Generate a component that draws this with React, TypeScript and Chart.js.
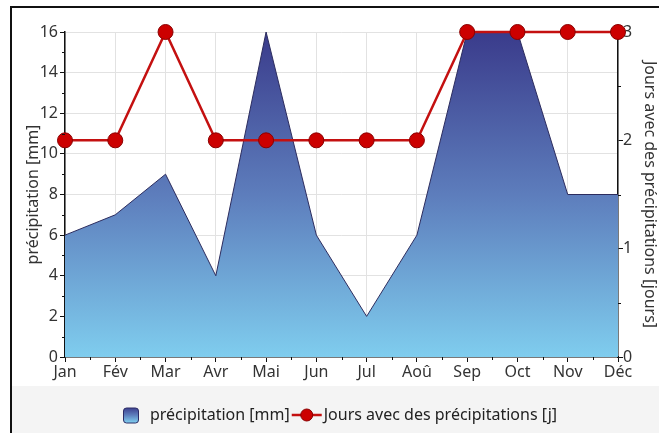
import React, { useEffect, useRef } from "react";
import { Chart, registerables } from "chart.js";

Chart.register(...registerables);

const months = ["Jan", "Fév", "Mar", "Avr", "Mai", "Jun", "Jul", "Aoû", "Sep", "Oct", "Nov", "Déc"];
const precipitation = [6, 7, 9, 4, 16, 6, 2, 6, 16, 16, 8, 8];
const rainyDays = [2, 2, 3, 2, 2, 2, 2, 2, 3, 3, 3, 3];
const leftAxisTitle = "précipitation [mm]";
const rightAxisTitle = "Jours avec des précipitations [jours]";
const legendAreaLabel = "précipitation [mm]";
const legendLineLabel = "Jours avec des précipitations [j]";

const FONT = "'Noto Sans', 'Open Sans', sans-serif";
const TOP_COLOR = "#3a3b8b";
const BOTTOM_COLOR = "#7fcdee";

function areaGradient(ctx: CanvasRenderingContext2D, top: number, bottom: number) {
  const g = ctx.createLinearGradient(0, top, 0, bottom);
  g.addColorStop(0, TOP_COLOR);
  g.addColorStop(0.5, "#5d7dbc");
  g.addColorStop(1, BOTTOM_COLOR);
  return g;
}

const framePlugin = {
  id: "frame",
  beforeDraw(chart: any) {
    const { ctx, width, height } = chart;
    ctx.save();
    ctx.fillStyle = "#ffffff";
    ctx.fillRect(0, 0, width, height);
    ctx.fillStyle = "#f4f4f4";
    ctx.fillRect(11, 386, width - 11, height - 386);
    ctx.strokeStyle = "#111111";
    ctx.lineWidth = 2;
    ctx.beginPath();
    ctx.moveTo(11, height);
    ctx.lineTo(11, 7);
    ctx.lineTo(width, 7);
    ctx.stroke();
    ctx.restore();
  },
};

const minorTicksPlugin = {
  id: "minorTicks",
  afterDraw(chart: any) {
    const { ctx } = chart;
    const y = chart.scales.y;
    const y1 = chart.scales.y1;
    const x = chart.scales.x;
    ctx.save();
    ctx.strokeStyle = "#111111";
    ctx.lineWidth = 1;
    ctx.beginPath();
    for (let v = 1; v < 16; v += 2) {
      const py = Math.round(y.getPixelForValue(v)) + 0.5;
      ctx.moveTo(y.right - 3, py);
      ctx.lineTo(y.right, py);
    }
    for (let v = 0.5; v < 3; v += 1) {
      const py = Math.round(y1.getPixelForValue(v)) + 0.5;
      ctx.moveTo(y1.left, py);
      ctx.lineTo(y1.left + 3, py);
    }
    for (let i = 0; i < months.length - 1; i++) {
      const px = Math.round((x.getPixelForTick(i) + x.getPixelForTick(i + 1)) / 2) + 0.5;
      ctx.moveTo(px, x.top);
      ctx.lineTo(px, x.top + 3);
    }
    ctx.stroke();
    ctx.restore();
  },
};

const legendPlugin = {
  id: "customLegend",
  afterDraw(chart: any) {
    const { ctx } = chart;
    ctx.save();
    ctx.font = `16px ${FONT}`;
    const w1 = ctx.measureText(legendAreaLabel).width;
    const w2 = ctx.measureText(legendLineLabel).width;
    const box = 15;
    const gapBox = 12;
    const marker = 30;
    const total = box + gapBox + w1 + 2 + marker + 2 + w2;
    let x = 340 - total / 2;
    const cy = 415;
    const g = areaGradient(ctx, cy - box / 2, cy + box / 2);
    ctx.fillStyle = g;
    ctx.strokeStyle = "#2c2c66";
    ctx.lineWidth = 1;
    ctx.beginPath();
    (ctx as any).roundRect(Math.round(x) + 0.5, cy - box / 2 + 0.5, box, box, 3);
    ctx.fill();
    ctx.stroke();
    x += box + gapBox;
    ctx.fillStyle = "#222222";
    ctx.textBaseline = "middle";
    ctx.textAlign = "left";
    ctx.fillText(legendAreaLabel, x, cy);
    x += w1 + 2;
    ctx.strokeStyle = "#c41010";
    ctx.lineWidth = 2.5;
    ctx.beginPath();
    ctx.moveTo(x, cy);
    ctx.lineTo(x + marker, cy);
    ctx.stroke();
    ctx.beginPath();
    ctx.arc(x + marker / 2, cy, 6, 0, Math.PI * 2);
    ctx.fillStyle = "#cc0000";
    ctx.fill();
    ctx.strokeStyle = "#8a0000";
    ctx.lineWidth = 1;
    ctx.stroke();
    x += marker + 2;
    ctx.fillStyle = "#222222";
    ctx.fillText(legendLineLabel, x, cy);
    ctx.restore();
  },
};

export default function App() {
  const canvasRef = useRef<HTMLCanvasElement | null>(null);

  useEffect(() => {
    const canvas = canvasRef.current;
    if (!canvas) return;
    const tickFont = { family: FONT, size: 16 };
    const titleFont = { family: FONT, size: 16, lineHeight: 1 };
    const chart = new Chart(canvas, {
      type: "line",
      data: {
        labels: months,
        datasets: [
          {
            label: legendLineLabel,
            data: rainyDays,
            yAxisID: "y1",
            borderColor: "#c41010",
            borderWidth: 2.5,
            pointRadius: 7.5,
            pointHoverRadius: 7.5,
            pointBackgroundColor: "#cc0000",
            pointBorderColor: "#8a0000",
            pointBorderWidth: 1,
            fill: false,
            tension: 0,
            order: 0,
            clip: false,
          } as any,
          {
            label: legendAreaLabel,
            data: precipitation,
            yAxisID: "y",
            borderColor: "#2c2c5e",
            borderWidth: 1,
            pointRadius: 0,
            fill: "origin",
            tension: 0,
            order: 1,
            backgroundColor: (c: any) => {
              const area = c.chart.chartArea;
              if (!area) return TOP_COLOR;
              return areaGradient(c.chart.ctx, area.top, area.bottom);
            },
          } as any,
        ],
      },
      options: {
        animation: false,
        responsive: false,
        devicePixelRatio: 1,
        layout: { padding: { top: 32, left: 0, right: 0, bottom: 0 } },
        plugins: {
          legend: { display: false },
          tooltip: { enabled: false },
        },
        scales: {
          x: {
            type: "category",
            offset: false,
            grid: {
              color: "#e2e2e2",
              tickColor: "#111111",
              tickLength: 5,
              offset: false,
            },
            border: { color: "#111111", width: 1.5 },
            ticks: { color: "#333333", font: tickFont, padding: 1, maxRotation: 0, autoSkip: false },
            afterFit: (s: any) => {
              s.height = 76;
            },
          },
          y: {
            position: "left",
            min: 0,
            max: 16,
            grid: { color: "#e2e2e2", tickColor: "#111111", tickLength: 5 },
            border: { color: "#111111", width: 1.5 },
            ticks: { stepSize: 2, color: "#333333", font: tickFont, padding: 2 },
            title: {
              display: true,
              text: leftAxisTitle,
              color: "#333333",
              font: titleFont,
              padding: { top: 25, bottom: 0 },
            },
            afterFit: (s: any) => {
              s.width = 65;
            },
          },
          y1: {
            position: "right",
            min: 0,
            max: 3,
            grid: { drawOnChartArea: false, tickColor: "#111111", tickLength: 5 },
            border: { color: "#111111", width: 1.5 },
            ticks: { stepSize: 1, color: "#333333", font: tickFont, padding: 0 },
            title: {
              display: true,
              text: rightAxisTitle,
              color: "#333333",
              font: titleFont,
              padding: { top: 1, bottom: 0 },
            },
            afterFit: (s: any) => {
              s.width = 41;
            },
          },
        },
      } as any,
      plugins: [framePlugin, minorTicksPlugin, legendPlugin],
    });
    return () => chart.destroy();
  }, []);

  return (
    <div style={{ position: "absolute", left: 0, top: 0, width: 659, height: 433 }}>
      <canvas ref={canvasRef} width={659} height={433} style={{ display: "block" }} />
    </div>
  );
}
